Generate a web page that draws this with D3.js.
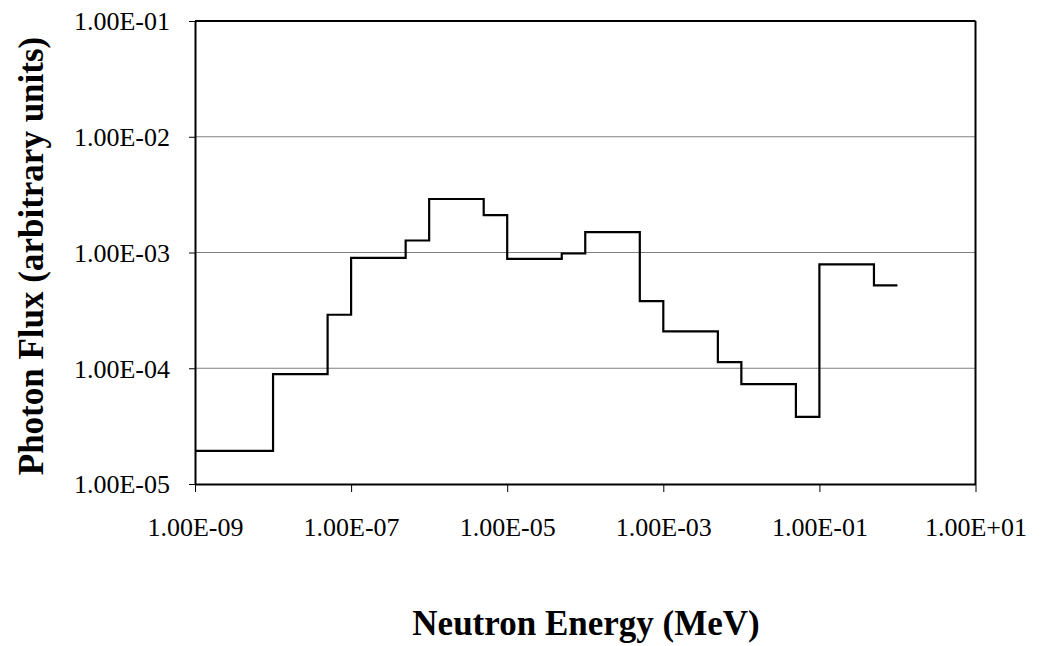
<!DOCTYPE html>
<html>
<head>
<meta charset="utf-8">
<script src="https://cdn.jsdelivr.net/npm/d3@7"></script>
<style>
  html, body { margin: 0; padding: 0; background: #fff; }
  svg { display: block; }
</style>
</head>
<body>
<svg id="chart" width="1043" height="646"></svg>
<script>
// Bin edges (MeV) and photon flux per bin
const binEdges = [1e-9, 1e-8, 5e-8, 1e-7, 5e-7, 1e-6, 5e-6, 1e-5, 5e-5, 1e-4, 5e-4, 1e-3, 5e-3, 1e-2, 5e-2, 1e-1, 5e-1, 1];
const fluxValues = [1.93e-5, 8.9e-5, 2.9e-4, 9.0e-4, 1.27e-3, 2.9e-3, 2.1e-3, 8.8e-4, 9.8e-4, 1.5e-3, 3.8e-4, 2.08e-4, 1.13e-4, 7.3e-5, 3.8e-5, 7.9e-4, 5.2e-4];
const xTickValues = [1e-9, 1e-7, 1e-5, 1e-3, 1e-1, 1e1];
const yTickValues = [1e-5, 1e-4, 1e-3, 1e-2, 1e-1];
const gridValues = [1e-4, 1e-3, 1e-2];
const xTitle = "Neutron Energy (MeV)";
const yTitle = "Photon Flux (arbitrary units)";

const svg = d3.select("#chart");
const L = 195, R = 975.5, T = 21, B = 484;
const x = d3.scaleLog().domain([1e-9, 10]).range([L, R]);
const y = d3.scaleLog().domain([1e-5, 1e-1]).range([B, T]);

function fmt(v) {
  const e = Math.round(Math.log10(v));
  const s = e < 0 ? "-" : "+";
  return "1.00E" + s + String(Math.abs(e)).padStart(2, "0");
}
const font = "'Liberation Serif', 'Times New Roman', serif";

// gridlines
svg.append("g").selectAll("line").data(gridValues).join("line")
  .attr("x1", L).attr("x2", R)
  .attr("y1", d => y(d)).attr("y2", d => y(d))
  .attr("stroke", "#808080").attr("stroke-width", 1);

// frame top & right
svg.append("line").attr("x1", L).attr("x2", R).attr("y1", T).attr("y2", T)
  .attr("stroke", "#000").attr("stroke-width", 2);
svg.append("line").attr("x1", R).attr("x2", R).attr("y1", T).attr("y2", B)
  .attr("stroke", "#000").attr("stroke-width", 2);

// x axis
const gx = svg.append("g").attr("transform", `translate(0,${B})`)
  .call(d3.axisBottom(x).tickValues(xTickValues).tickFormat(fmt).tickSize(8).tickSizeOuter(0));
gx.select(".domain").attr("stroke", "#000").attr("stroke-width", 2);
gx.selectAll(".tick line").attr("stroke", "#000").attr("stroke-width", 1);
gx.selectAll(".tick text").attr("y", 52).attr("dy", null)
  .attr("fill", "#000").style("font-family", font).style("font-size", "26px");

// y axis
const gy = svg.append("g").attr("transform", `translate(${L},0)`)
  .call(d3.axisLeft(y).tickValues(yTickValues).tickFormat(fmt).tickSize(6).tickPadding(19).tickSizeOuter(0));
gy.select(".domain").attr("stroke", "#000").attr("stroke-width", 2);
gy.selectAll(".tick line").attr("stroke", "#000").attr("stroke-width", 1);
gy.selectAll(".tick text").attr("dy", "0.34em")
  .attr("fill", "#000").style("font-family", font).style("font-size", "26px");

// step line
const pts = binEdges.map((e, i) => [e, i < fluxValues.length ? fluxValues[i] : fluxValues[fluxValues.length - 1]]);
const line = d3.line().x(d => x(d[0])).y(d => y(d[1])).curve(d3.curveStepAfter);
svg.append("path").datum(pts).attr("d", line)
  .attr("fill", "none").attr("stroke", "#000").attr("stroke-width", 2.2)
  .attr("stroke-linejoin", "miter");

// titles
svg.append("text").attr("x", 586).attr("y", 635)
  .attr("text-anchor", "middle").style("font-family", font)
  .style("font-size", "35px").style("font-weight", "bold").text(xTitle);
svg.append("text").attr("transform", "translate(43,256) rotate(-90)")
  .attr("text-anchor", "middle").style("font-family", font)
  .style("font-size", "35px").style("font-weight", "bold").text(yTitle);
</script>
</body>
</html>
